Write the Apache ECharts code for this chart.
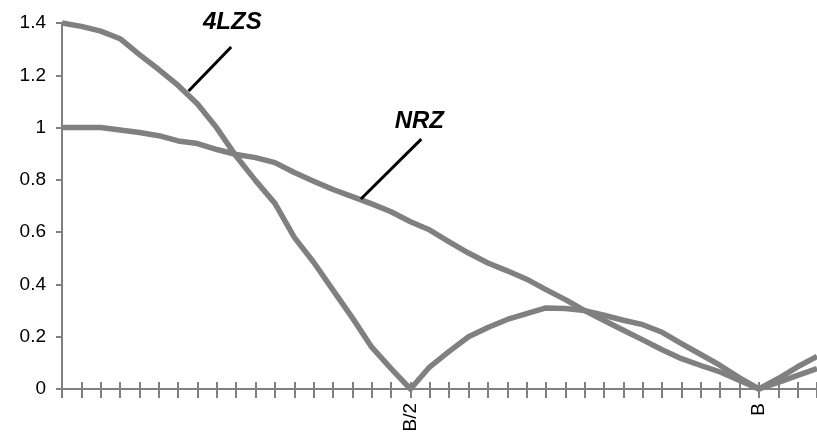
<!DOCTYPE html>
<html>
<head>
<meta charset="utf-8">
<script src="https://cdn.jsdelivr.net/npm/echarts@6/dist/echarts.min.js"></script>
<style>
  html, body { margin: 0; padding: 0; background: #fff; }
  #chart { width: 817px; height: 446px; }
</style>
</head>
<body>
<div id="chart"></div>
<script>
// Frequency samples in tick units (B/2 = 18, B = 36)
const freqTicks = [0,1,2,3,4,5,6,7,8,9,10,11,12,13,14,15,16,17,18,19,20,21,22,23,24,25,26,27,28,29,30,31,32,33,34,35,36,37,38,39];

// Spectral magnitude of the NRZ code
const nrzValues = [1.0,1.0,1.0,0.991,0.981,0.969,0.949,0.939,0.916,0.897,0.885,0.866,0.828,0.795,0.763,0.736,0.708,0.678,0.64,0.608,0.563,0.52,0.482,0.452,0.42,0.38,0.342,0.30,0.262,0.225,0.188,0.15,0.116,0.09,0.065,0.033,0,0.025,0.052,0.078];

// Spectral magnitude of the 4LZS code
const lzsValues = [1.40,1.387,1.369,1.34,1.279,1.222,1.161,1.09,0.998,0.89,0.797,0.71,0.58,0.485,0.378,0.272,0.16,0.078,0,0.085,0.144,0.20,0.235,0.266,0.288,0.31,0.308,0.30,0.282,0.263,0.246,0.217,0.174,0.132,0.09,0.043,0,0.04,0.085,0.125];

// Named frequency ticks
const xLabelTicks = [18, 36];
const xLabelNames = ['B/2', 'B'];

// Series names, used for callout texts
const seriesNames = ['NRZ', '4LZS'];

// Callout anchors (data space): text position + pixel nudge, leader start, leader end
const nrzCallout = { text: [18.46, 1.025], nudge: [0, 0], from: [15.44, 0.727], to: [18.56, 0.956] };
const lzsCallout = { text: [8.8, 1.4], nudge: [0, -1], from: [6.54, 1.14], to: [8.74, 1.308] };

const GRAY = '#808080';
const LABEL_FONT = 'Liberation Sans';

function pairs(xs, ys) { return xs.map((x, i) => [x, ys[i]]); }

function callout(c, name) {
  return {
    markLine: {
      silent: true,
      symbol: ['none', 'none'],
      animation: false,
      label: { show: false },
      lineStyle: { color: '#000', width: 3, type: 'solid' },
      emphasis: { disabled: true },
      data: [[{ coord: c.from }, { coord: c.to }]]
    },
    markPoint: {
      silent: true,
      symbol: 'circle',
      symbolSize: 0,
      animation: false,
      label: {
        show: true,
        position: 'inside',
        offset: c.nudge,
        formatter: name,
        color: '#000',
        fontFamily: LABEL_FONT,
        fontWeight: 'bold',
        fontStyle: 'italic',
        fontSize: 24
      },
      data: [{ coord: c.text }]
    }
  };
}

const chart = echarts.init(document.getElementById('chart'), null, { renderer: 'canvas' });

const xCommon = { type: 'value', min: 0, max: 39, interval: 1, splitLine: { show: false } };
const yCommon = { type: 'value', min: 0, max: 1.4, interval: 0.2, splitLine: { show: false } };

chart.setOption({
  animation: false,
  backgroundColor: '#fff',
  grid: { left: 62, right: -8, top: 23, bottom: 57, containLabel: false },
  xAxis: [
    Object.assign({}, xCommon, {
      position: 'bottom',
      axisLine: { show: true, lineStyle: { color: GRAY, width: 2 } },
      axisTick: { show: true, inside: false, length: 9, lineStyle: { color: GRAY, width: 2 } },
      axisLabel: {
        show: true,
        rotate: 90,
        margin: 14,
        color: '#000',
        fontFamily: LABEL_FONT,
        fontSize: 19,
        padding: [0, 0, 12, 0],
        formatter: function (v) {
          const k = xLabelTicks.indexOf(Math.round(v));
          return (k >= 0 && Math.abs(v - xLabelTicks[k]) < 1e-6) ? xLabelNames[k] : '';
        }
      }
    }),
    // second copy of the axis carries the upward half of each tick
    Object.assign({}, xCommon, {
      position: 'top',
      offset: -366,
      axisLine: { show: false },
      axisTick: { show: true, inside: false, length: 7, lineStyle: { color: GRAY, width: 2 } },
      axisLabel: { show: false }
    })
  ],
  yAxis: [
    Object.assign({}, yCommon, {
      position: 'left',
      axisLine: { show: true, lineStyle: { color: GRAY, width: 2 } },
      axisTick: { show: true, inside: false, length: 6, lineStyle: { color: GRAY, width: 2 } },
      axisLabel: {
        show: true,
        margin: 16,
        color: '#000',
        fontFamily: LABEL_FONT,
        fontSize: 19,
        formatter: function (v) { return String(+v.toFixed(1)); }
      }
    }),
    // second copy of the axis carries the inward half of each tick
    Object.assign({}, yCommon, {
      position: 'right',
      offset: -763,
      axisLine: { show: false },
      axisTick: { show: true, inside: false, length: 10, lineStyle: { color: GRAY, width: 2 } },
      axisLabel: { show: false }
    })
  ],
  series: [
    Object.assign({
      name: seriesNames[0],
      type: 'line',
      xAxisIndex: 0,
      yAxisIndex: 0,
      data: pairs(freqTicks, nrzValues),
      showSymbol: false,
      symbol: 'none',
      clip: false,
      lineStyle: { color: GRAY, width: 5.5, join: 'round' },
      itemStyle: { color: GRAY },
      emphasis: { disabled: true },
      z: 3
    }, callout(nrzCallout, seriesNames[0])),
    Object.assign({
      name: seriesNames[1],
      type: 'line',
      xAxisIndex: 0,
      yAxisIndex: 0,
      data: pairs(freqTicks, lzsValues),
      showSymbol: false,
      symbol: 'none',
      clip: false,
      lineStyle: { color: GRAY, width: 5.5, join: 'round' },
      itemStyle: { color: GRAY },
      emphasis: { disabled: true },
      z: 3
    }, callout(lzsCallout, seriesNames[1]))
  ]
});
</script>
</body>
</html>
